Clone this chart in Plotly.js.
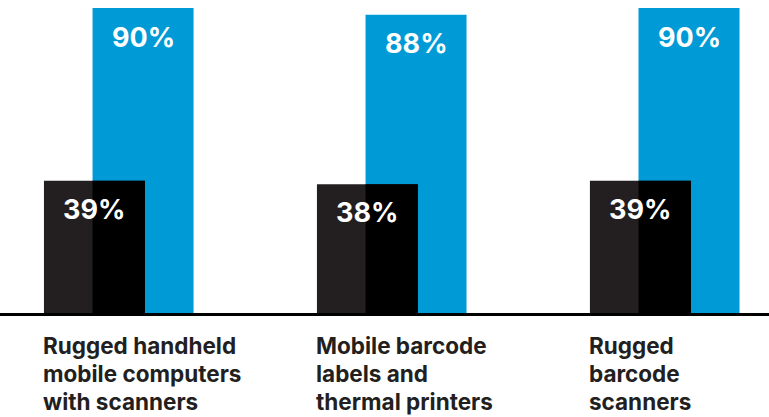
<!DOCTYPE html>
<html>
<head>
<meta charset="utf-8">
<script src="https://cdn.plot.ly/plotly-3.0.1.min.js"></script>
<style>html,body{margin:0;padding:0;background:#fff;}#chart{width:769px;height:417px;}</style>
</head>
<body>
<div id="chart"></div>
<script>
const categories = ["Rugged handheld mobile computers with scanners", "Mobile barcode labels and thermal printers", "Rugged barcode scanners"];
const categoryLabelLines = [
  ["Rugged handheld", "mobile computers", "with scanners"],
  ["Mobile barcode", "labels and", "thermal printers"],
  ["Rugged", "barcode", "scanners"]
];
const darkValues = [39, 38, 39];
const blueValues = [90, 88, 90];

const BAR_W = 0.37, DARK_OFF = -0.273, BLUE_OFF = -0.095;
const OVERLAP_W = DARK_OFF + BAR_W - BLUE_OFF;
const idx = categories.map((_, i) => i);

const traces = [
  {type: 'bar', x: idx, y: blueValues, width: BAR_W, offset: BLUE_OFF, marker: {color: '#009bd6'}, hoverinfo: 'skip'},
  {type: 'bar', x: idx, y: darkValues, width: BAR_W, offset: DARK_OFF, marker: {color: '#231f20'}, hoverinfo: 'skip'},
  {type: 'bar', x: idx, y: darkValues, width: OVERLAP_W, offset: BLUE_OFF, marker: {color: '#000000'}, hoverinfo: 'skip'}
];

const annotations = [];
const pctFont = {family: 'Inter', size: 27, color: '#ffffff', weight: 700};
const labFont = {family: 'Inter', size: 22.5, color: '#231f20', weight: 700};
idx.forEach(i => {
  annotations.push({x: i + BLUE_OFF + BAR_W / 2, y: blueValues[i], xref: 'x', yref: 'y', text: blueValues[i] + '%', showarrow: false, yanchor: 'middle', yshift: -29, font: pctFont});
  annotations.push({x: i + DARK_OFF + BAR_W / 2, y: darkValues[i], xref: 'x', yref: 'y', text: darkValues[i] + '%', showarrow: false, yanchor: 'middle', yshift: -28.5, font: pctFont});
  categoryLabelLines[i].forEach((line, j) => {
    annotations.push({x: i + DARK_OFF, y: 0, xref: 'x', yref: 'paper', text: line, showarrow: false, xanchor: 'left', yanchor: 'top', align: 'left', xshift: -3, yshift: -17 - 28 * j, font: labFont});
  });
});

const layout = {
  width: 769, height: 417,
  margin: {l: 0, r: 0, t: 0, b: 104},
  paper_bgcolor: '#ffffff', plot_bgcolor: '#ffffff',
  barmode: 'overlay', showlegend: false,
  xaxis: {range: [-0.434, 2.383], showticklabels: false, ticks: '', showgrid: false, zeroline: false, showline: true, linecolor: '#000000', linewidth: 3, fixedrange: true},
  yaxis: {range: [0, 92.36], visible: false, fixedrange: true},
  annotations: annotations
};

Plotly.newPlot('chart', traces, layout, {displayModeBar: false, staticPlot: true});
</script>
</body>
</html>
